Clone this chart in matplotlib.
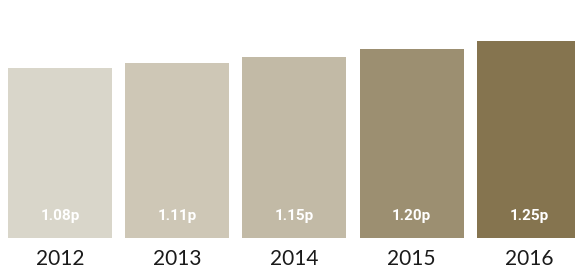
import numpy as np
import matplotlib
matplotlib.use("Agg")
import matplotlib.pyplot as plt

years = ["2012", "2013", "2014", "2015", "2016"]
values = [1.08, 1.11, 1.15, 1.20, 1.25]
labels = ["1.08p", "1.11p", "1.15p", "1.20p", "1.25p"]
colors = ["#d9d6ca", "#cec7b6", "#c2baa6", "#9c8f71", "#85744f"]

fig = plt.figure(figsize=(5.75, 2.7), dpi=100)
# axes spans full width, baseline at 238px from top
ax = fig.add_axes([0, 32 / 270, 1, 238 / 270])

x = np.arange(len(years))
ax.bar(x, values, width=104 / 117.25, color=colors)

for xi, lab in zip(x, labels):
    ax.text(xi, 0.14, lab, ha="center", va="center", color="white",
            fontsize=11, fontweight="bold", family="Roboto")

ax.set_xlim(-60 / 117.25, 515 / 117.25)
ax.set_ylim(0, 238 / 157.5)
ax.set_xticks(x)
ax.set_xticklabels(years, fontsize=15, family="Lato", color="#1a1a1a")
ax.tick_params(axis="x", length=0, pad=8)
ax.set_yticks([])
for s in ax.spines.values():
    s.set_visible(False)

fig.savefig("out.png", dpi=100)
